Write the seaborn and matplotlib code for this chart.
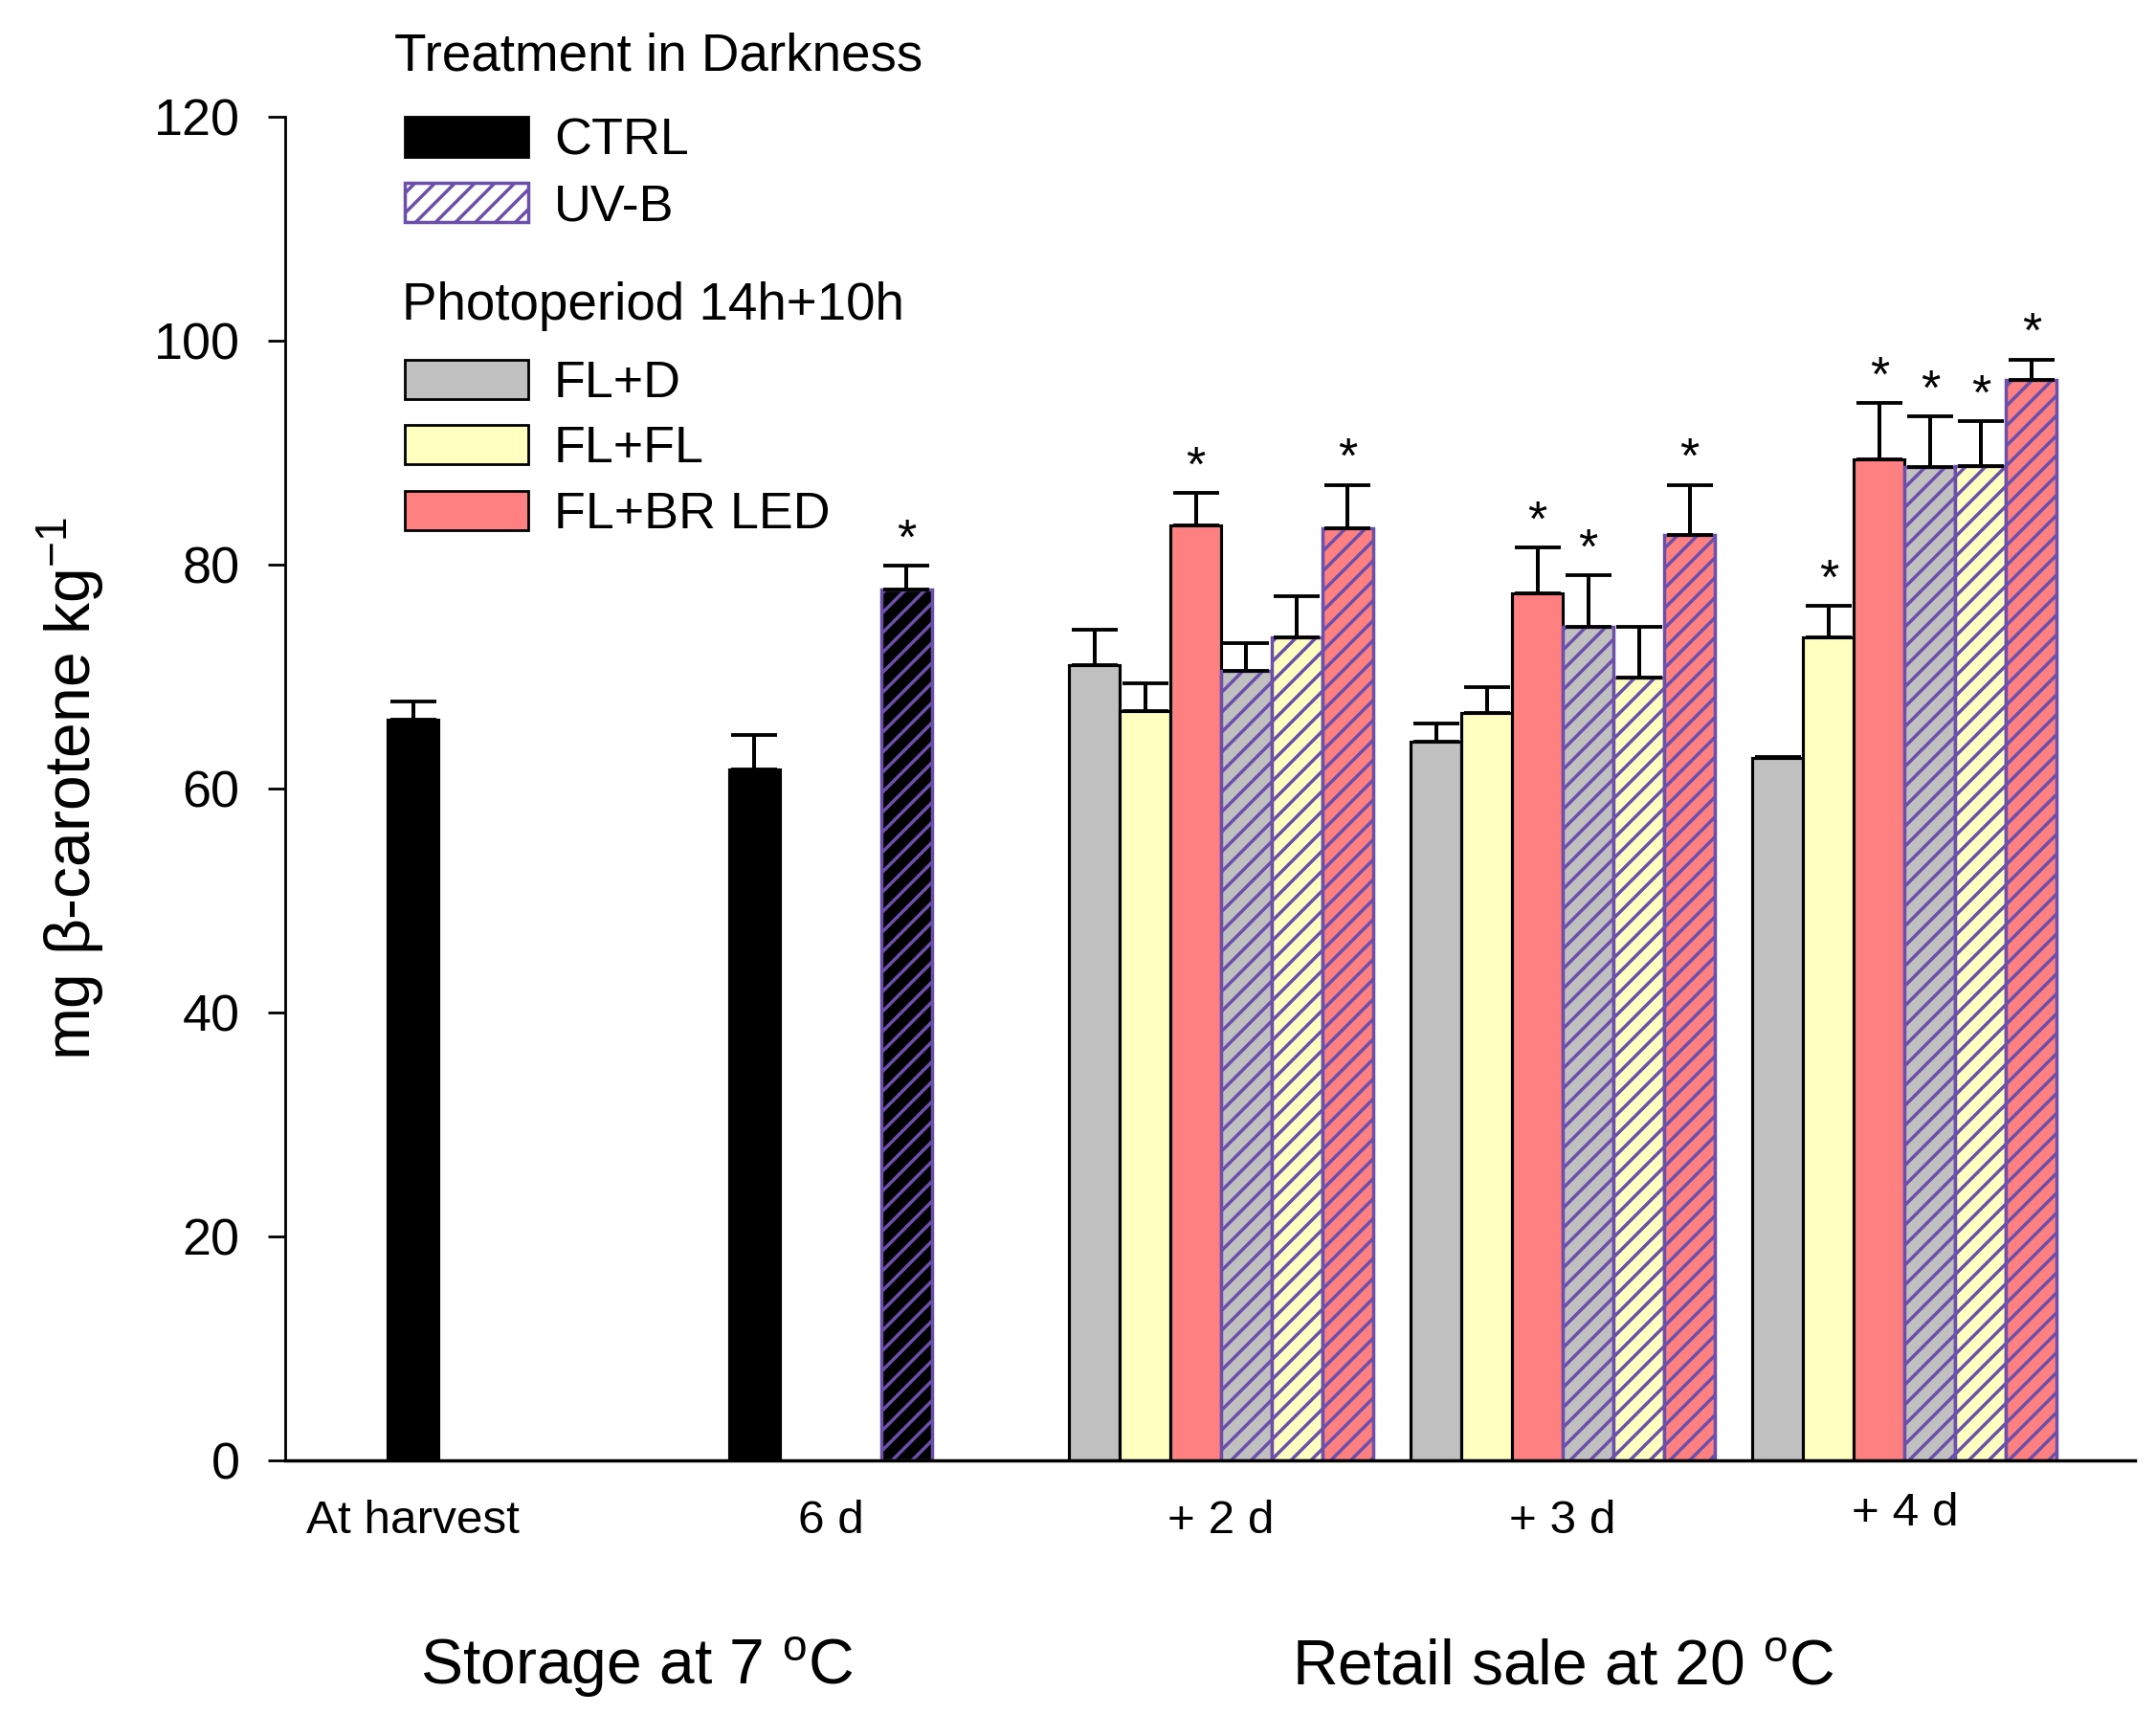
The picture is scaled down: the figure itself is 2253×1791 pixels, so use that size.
import numpy as np
import matplotlib
matplotlib.use("Agg")
import matplotlib.pyplot as plt
import matplotlib.transforms as mtransforms
import seaborn as sns
from matplotlib.patches import Patch
from matplotlib.transforms import blended_transform_factory

sns.set_style("ticks")
plt.rcParams["font.family"] = ["Liberation Sans", "DejaVu Sans"]
plt.rcParams["mathtext.default"] = "regular"
plt.rcParams["hatch.linewidth"] = 2.0
for key in ["text.color", "axes.labelcolor", "xtick.color", "ytick.color"]:
    plt.rcParams[key] = "black"

# Data (mg beta-carotene per kg), upper error bars and significance marks
group_labels = ["At harvest", "6 d", "+ 2 d", "+ 3 d", "+ 4 d"]

ctrl_mean = [66.1, 61.7]          # At harvest, 6 d
ctrl_err = [1.7, 3.1]
uvb_6d_mean = [77.8]
uvb_6d_err = [2.1]
uvb_6d_sig = [True]

# retail sale: +2 d, +3 d, +4 d
fl_d_mean = [71.0, 64.2, 62.7]
fl_d_err = [3.2, 1.6, 0.1]
fl_d_sig = [False, False, False]
fl_fl_mean = [66.9, 66.7, 73.5]
fl_fl_err = [2.5, 2.3, 2.8]
fl_fl_sig = [False, False, True]
fl_br_mean = [83.5, 77.4, 89.4]
fl_br_err = [2.9, 4.1, 5.0]
fl_br_sig = [True, True, True]
uv_fl_d_mean = [70.5, 74.4, 88.7]
uv_fl_d_err = [2.5, 4.6, 4.5]
uv_fl_d_sig = [False, True, True]
uv_fl_fl_mean = [73.5, 69.9, 88.8]
uv_fl_fl_err = [3.7, 4.5, 4.0]
uv_fl_fl_sig = [False, False, True]
uv_fl_br_mean = [83.2, 82.6, 96.5]
uv_fl_br_err = [3.9, 4.5, 1.8]
uv_fl_br_sig = [True, True, True]

GRAY = "#C0C0C0"
YELLOW = "#FFFFC0"
RED = "#FF8080"
PURPLE = "#6B4FAA"
HATCH = "//"

group_x = np.array([2.52, 10.75, 18.45, 25.19, 31.93])

fig = plt.figure(figsize=(18.024, 14.328))
ax = fig.add_subplot(111)
fig.subplots_adjust(left=0.1324, right=0.9902, bottom=0.1481, top=0.9320)


def draw_bars(x, mean, err, sig, face, hatched):
    x = np.atleast_1d(np.asarray(x, dtype=float))
    mean = np.asarray(mean, dtype=float)
    err = np.asarray(err, dtype=float)
    edge = PURPLE if hatched else "black"
    ax.bar(x, mean, width=1.0, color=face, edgecolor=edge,
           linewidth=2.0 if hatched else 1.8,
           hatch=HATCH if hatched else None, zorder=2)
    ax.errorbar(x, mean, yerr=[np.zeros_like(err), err], fmt="none",
                ecolor="black", elinewidth=2.3, capsize=14, capthick=2.2,
                zorder=3)
    for xi, m, e, s in zip(x, mean, err, sig):
        if s:
            ax.annotate("*", (xi, m + e), xytext=(0, 15),
                        textcoords="offset points", ha="center",
                        va="center", fontsize=30)


# storage at 7 C
draw_bars(group_x[:1], ctrl_mean[:1], ctrl_err[:1], [False], "black", False)
draw_bars(group_x[1:2] - 1.5, ctrl_mean[1:], ctrl_err[1:], [False], "black", False)
draw_bars(group_x[1:2] + 1.5, uvb_6d_mean, uvb_6d_err, uvb_6d_sig, "black", True)

# retail sale at 20 C
retail_x = group_x[2:]
series = [
    (fl_d_mean, fl_d_err, fl_d_sig, GRAY, False),
    (fl_fl_mean, fl_fl_err, fl_fl_sig, YELLOW, False),
    (fl_br_mean, fl_br_err, fl_br_sig, RED, False),
    (uv_fl_d_mean, uv_fl_d_err, uv_fl_d_sig, GRAY, True),
    (uv_fl_fl_mean, uv_fl_fl_err, uv_fl_fl_sig, YELLOW, True),
    (uv_fl_br_mean, uv_fl_br_err, uv_fl_br_sig, RED, True),
]
for k, (m, e, s, face, hatched) in enumerate(series):
    draw_bars(retail_x + (k - 2.5), m, e, s, face, hatched)

# axes
ax.set_xlim(0, 36.47)
ax.set_ylim(0, 120)
ax.set_yticks(range(0, 121, 20))
ax.set_xticks(group_x, group_labels)
ax.tick_params(axis="y", length=10.4, width=1.6, pad=17, labelsize=31,
               direction="out")
ax.tick_params(axis="x", length=0, pad=24, labelsize=28.5)
sns.despine(ax=ax)
ax.spines["left"].set_linewidth(1.6)
ax.spines["bottom"].set_linewidth(2.0)
ax.spines["left"].set_color("black")
ax.spines["bottom"].set_color("black")

# the "+ 4 d" label sits a little higher in the original
last_label = ax.get_xticklabels()[-1]
last_label.set_transform(last_label.get_transform()
                         + mtransforms.ScaledTranslation(0, 0.07, fig.dpi_scale_trans))

ax.set_ylabel(r"mg $\beta$-carotene kg$^{-1}$", fontsize=38)
ax.yaxis.set_label_coords(-0.097, 0.5)

# period labels under the axis
trans = blended_transform_factory(ax.transData, fig.transFigure)
ax.text(group_x[:2].mean() + 0.3, 0.0173, r"Storage at 7 $^{o}$C", transform=trans,
        ha="center", va="baseline", fontsize=38)
ax.text(group_x[2:].mean(), 0.0173, r"Retail sale at 20 $^{o}$C", transform=trans,
        ha="center", va="baseline", fontsize=38)

# legends
leg_kw = dict(loc="center left", bbox_transform=fig.transFigure, frameon=False,
              borderpad=0, borderaxespad=0, fontsize=31, handlelength=2.4,
              handleheight=0.8, handletextpad=0.5, labelspacing=0.34)
dark_handles = [Patch(facecolor="black", edgecolor="black", linewidth=1.6),
                Patch(facecolor="white", edgecolor=PURPLE, linewidth=2.0, hatch=HATCH)]
leg1 = ax.legend(dark_handles, ["CTRL", "UV-B"], bbox_to_anchor=(0.1877, 0.8985), **leg_kw)
ax.add_artist(leg1)
light_handles = [Patch(facecolor=GRAY, edgecolor="black", linewidth=1.6),
                 Patch(facecolor=YELLOW, edgecolor="black", linewidth=1.6),
                 Patch(facecolor=RED, edgecolor="black", linewidth=1.6)]
ax.legend(light_handles, ["FL+D", "FL+FL", "FL+BR LED"],
          bbox_to_anchor=(0.1877, 0.7380), **leg_kw)

fig.text(412 / 2253, 1 - 60 / 1791, "Treatment in Darkness", ha="left",
         va="center", fontsize=31.5)
fig.text(420 / 2253, 1 - 320 / 1791, "Photoperiod 14h+10h", ha="left",
         va="center", fontsize=31.5)

fig.savefig("out.png", dpi=125)
